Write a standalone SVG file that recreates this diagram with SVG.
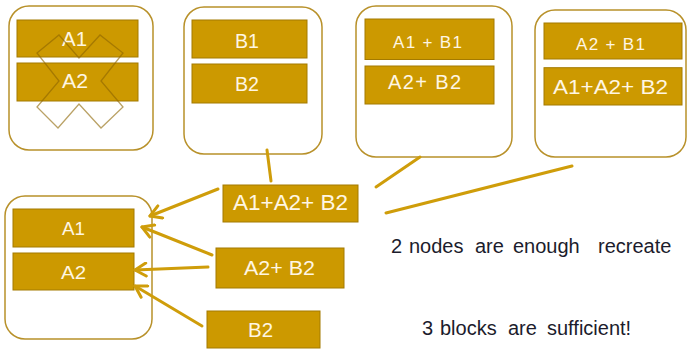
<svg xmlns="http://www.w3.org/2000/svg" width="687" height="349" viewBox="0 0 687 349">
<style>
.outer{fill:#ffffff;stroke:#B8912A;stroke-width:1.5}
.box{fill:#CC9900;stroke:#A47A00;stroke-width:1}
.bt{font-family:"Liberation Sans",Arial,sans-serif;fill:#FFF6E3}
.conn{stroke:#CF9D0A;stroke-width:3;fill:none;stroke-linecap:round}
.note{font-family:"Liberation Sans",Arial,sans-serif;font-size:20px;fill:#1C1C2C}
</style>
<defs>
<marker id="ah" viewBox="-13 -8 15 16" markerWidth="15" markerHeight="16" refX="0" refY="0" orient="auto" markerUnits="userSpaceOnUse">
<path d="M-11,-6.5 L0,0 L-11,6.5" fill="none" stroke="#CF9D0A" stroke-width="3" stroke-linecap="round" stroke-linejoin="round"/>
</marker>
</defs>
<g id="node1">
<rect class="outer" x="9" y="6" width="144" height="144" rx="20"/>
<rect class="box" x="17" y="20" width="121" height="37"/>
<rect class="box" x="17" y="63" width="121" height="38"/>
<text class="bt" x="62" y="45.5" font-size="20" textLength="25" lengthAdjust="spacingAndGlyphs">A1</text>
<text class="bt" x="62" y="87.5" font-size="20" textLength="26" lengthAdjust="spacingAndGlyphs">A2</text>
<polygon points="37,53 59,35 79,58 100,35 123,53 101,81 123,107 101,128 79,104 58,128 37,107 59,81" fill="none" stroke="rgb(140,100,0)" stroke-opacity="0.6" stroke-width="1.3"/>
</g>
<g id="node2">
<rect class="outer" x="184" y="7" width="138" height="147" rx="20"/>
<rect class="box" x="192" y="20" width="115" height="38"/>
<rect class="box" x="192" y="64" width="115" height="39"/>
<text class="bt" x="235" y="47.5" font-size="20" textLength="24" lengthAdjust="spacingAndGlyphs">B1</text>
<text class="bt" x="235" y="90.5" font-size="20" textLength="24" lengthAdjust="spacingAndGlyphs">B2</text>
</g>
<g id="node3">
<rect class="outer" x="356" y="6" width="156" height="151" rx="20"/>
<rect class="box" x="365" y="19" width="129" height="40.5"/>
<rect class="box" x="365" y="66" width="129" height="38"/>
<text class="bt" x="393" y="47.5" font-size="17" textLength="69" lengthAdjust="spacing">A1 + B1</text>
<text class="bt" x="388" y="89" font-size="20" textLength="73" lengthAdjust="spacing">A2+ B2</text>
</g>
<g id="node4">
<rect class="outer" x="535" y="10" width="151" height="147" rx="20"/>
<rect class="box" x="544" y="23" width="138" height="36"/>
<rect class="box" x="544" y="67.7" width="138" height="37.3"/>
<text class="bt" x="576" y="49.5" font-size="17" textLength="69" lengthAdjust="spacing">A2 + B1</text>
<text class="bt" x="553" y="93.5" font-size="21" textLength="115" lengthAdjust="spacingAndGlyphs">A1+A2+ B2</text>
</g>
<g id="node5">
<rect class="outer" x="5" y="196" width="147" height="143" rx="20"/>
<rect class="box" x="13" y="209" width="121" height="38"/>
<rect class="box" x="13" y="253" width="121" height="37"/>
<text class="bt" x="62" y="234.5" font-size="19" textLength="23" lengthAdjust="spacingAndGlyphs">A1</text>
<text class="bt" x="61" y="278.5" font-size="19" textLength="25" lengthAdjust="spacingAndGlyphs">A2</text>
</g>
<g id="block1">
<rect class="box" x="223" y="185" width="135" height="37"/>
<text class="bt" x="233" y="209.5" font-size="21.5" textLength="115" lengthAdjust="spacingAndGlyphs">A1+A2+ B2</text>
</g>
<g id="block2">
<rect class="box" x="216" y="248" width="128" height="40"/>
<text class="bt" x="244" y="274.5" font-size="21" textLength="71" lengthAdjust="spacingAndGlyphs">A2+ B2</text>
</g>
<g id="block3">
<rect class="box" x="207" y="311" width="113" height="37"/>
<text class="bt" x="248" y="336.5" font-size="20" textLength="25" lengthAdjust="spacingAndGlyphs">B2</text>
</g>
<g id="connectors">
<line class="conn" x1="267" y1="150" x2="271" y2="181"/>
<line class="conn" x1="376" y1="187" x2="420" y2="157"/>
<line class="conn" x1="386" y1="213" x2="572" y2="166"/>
<line class="conn" x1="218" y1="189" x2="150" y2="216" marker-end="url(#ah)"/>
<line class="conn" x1="212" y1="255" x2="142" y2="227" marker-end="url(#ah)"/>
<line class="conn" x1="208" y1="267" x2="135" y2="270" marker-end="url(#ah)"/>
<line class="conn" x1="202" y1="326" x2="135" y2="286" marker-end="url(#ah)"/>
</g>
<text class="note" y="252.5"><tspan x="391">2</tspan><tspan x="409">nodes</tspan><tspan x="475">are</tspan><tspan x="513">enough</tspan><tspan x="598">recreate</tspan></text>
<text class="note" y="335"><tspan x="422">3</tspan><tspan x="440">blocks</tspan><tspan x="508">are</tspan><tspan x="547">sufficient!</tspan></text>
</svg>
